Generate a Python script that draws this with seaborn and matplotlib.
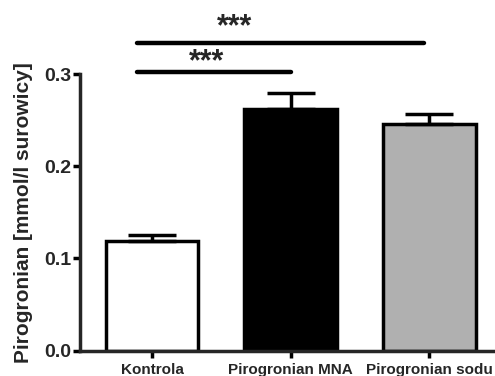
import matplotlib
matplotlib.use("Agg")
import matplotlib.pyplot as plt
import seaborn as sns
import pandas as pd

groups = ["Kontrola", "Pirogronian MNA", "Pirogronian sodu"]
means = [0.119, 0.262, 0.246]
sem = [0.007, 0.017, 0.011]
colors = ["#ffffff", "#000000", "#b0b0b0"]
y_ticks = [0.0, 0.1, 0.2, 0.3]
y_label = "Pirogronian [mmol/l surowicy]"

# significance brackets: start, end, height, label position, text
sig_x0 = [-0.11, -0.11]
sig_x1 = [1.0, 1.96]
sig_y = [0.302, 0.334]
sig_tx = [0.396, 0.594]
sig_ty = [0.318, 0.3564]
sig_txt = ["***", "***"]

sns.set_theme(style="ticks")
plt.rcParams["font.family"] = ["Liberation Sans", "DejaVu Sans"]
plt.rcParams["font.weight"] = "bold"

df = pd.DataFrame({"group": groups, "value": means})

fig = plt.figure(figsize=(4.95, 3.76), dpi=100)
ax = fig.add_axes([0.1616, 0.0673, 0.8344, 0.7357])

sns.barplot(data=df, x="group", y="value", hue="group", palette=colors,
            width=0.67, edgecolor="black", linewidth=2.5, legend=False,
            errorbar=None, ax=ax, saturation=1)

ax.errorbar(range(len(groups)), means, yerr=[[0] * len(sem), sem], fmt="none",
            ecolor="black", elinewidth=2.5, capsize=17, capthick=2.5,
            clip_on=False, zorder=1)

star_fs = 22
for x0, x1, y, tx, ty, t in zip(sig_x0, sig_x1, sig_y, sig_tx, sig_ty, sig_txt):
    ax.plot([x0, x1], [y, y], color="black", lw=3.2, solid_capstyle="round",
            clip_on=False)
    # asterisks sit high in the em box; shift the baseline down to centre them
    ax.annotate(t, (tx, ty), xytext=(0, -0.57 * star_fs + 3), textcoords="offset points",
                ha="center", va="baseline", fontsize=star_fs, fontweight="bold",
                annotation_clip=False)

ax.set_xlim(-0.52, 2.46)
ax.set_ylim(0, 0.3)
ax.set_yticks(y_ticks)
ax.set_yticklabels([f"{v:.1f}" for v in y_ticks], fontsize=14, fontweight="bold")
ax.set_xticks(range(len(groups)))
ax.set_xticklabels(groups, fontsize=11, fontweight="bold")
ax.set_xlabel("")
ax.set_ylabel(y_label, fontsize=15, fontweight="bold", labelpad=8)

for s in ["top", "right"]:
    ax.spines[s].set_visible(False)
for s in ["left", "bottom"]:
    ax.spines[s].set_linewidth(2.5)
ax.tick_params(axis="y", width=2.5, length=5, color="black", pad=1)
ax.tick_params(axis="x", width=2.5, length=5, color="black", pad=4)

fig.savefig("out.png", dpi=100)
